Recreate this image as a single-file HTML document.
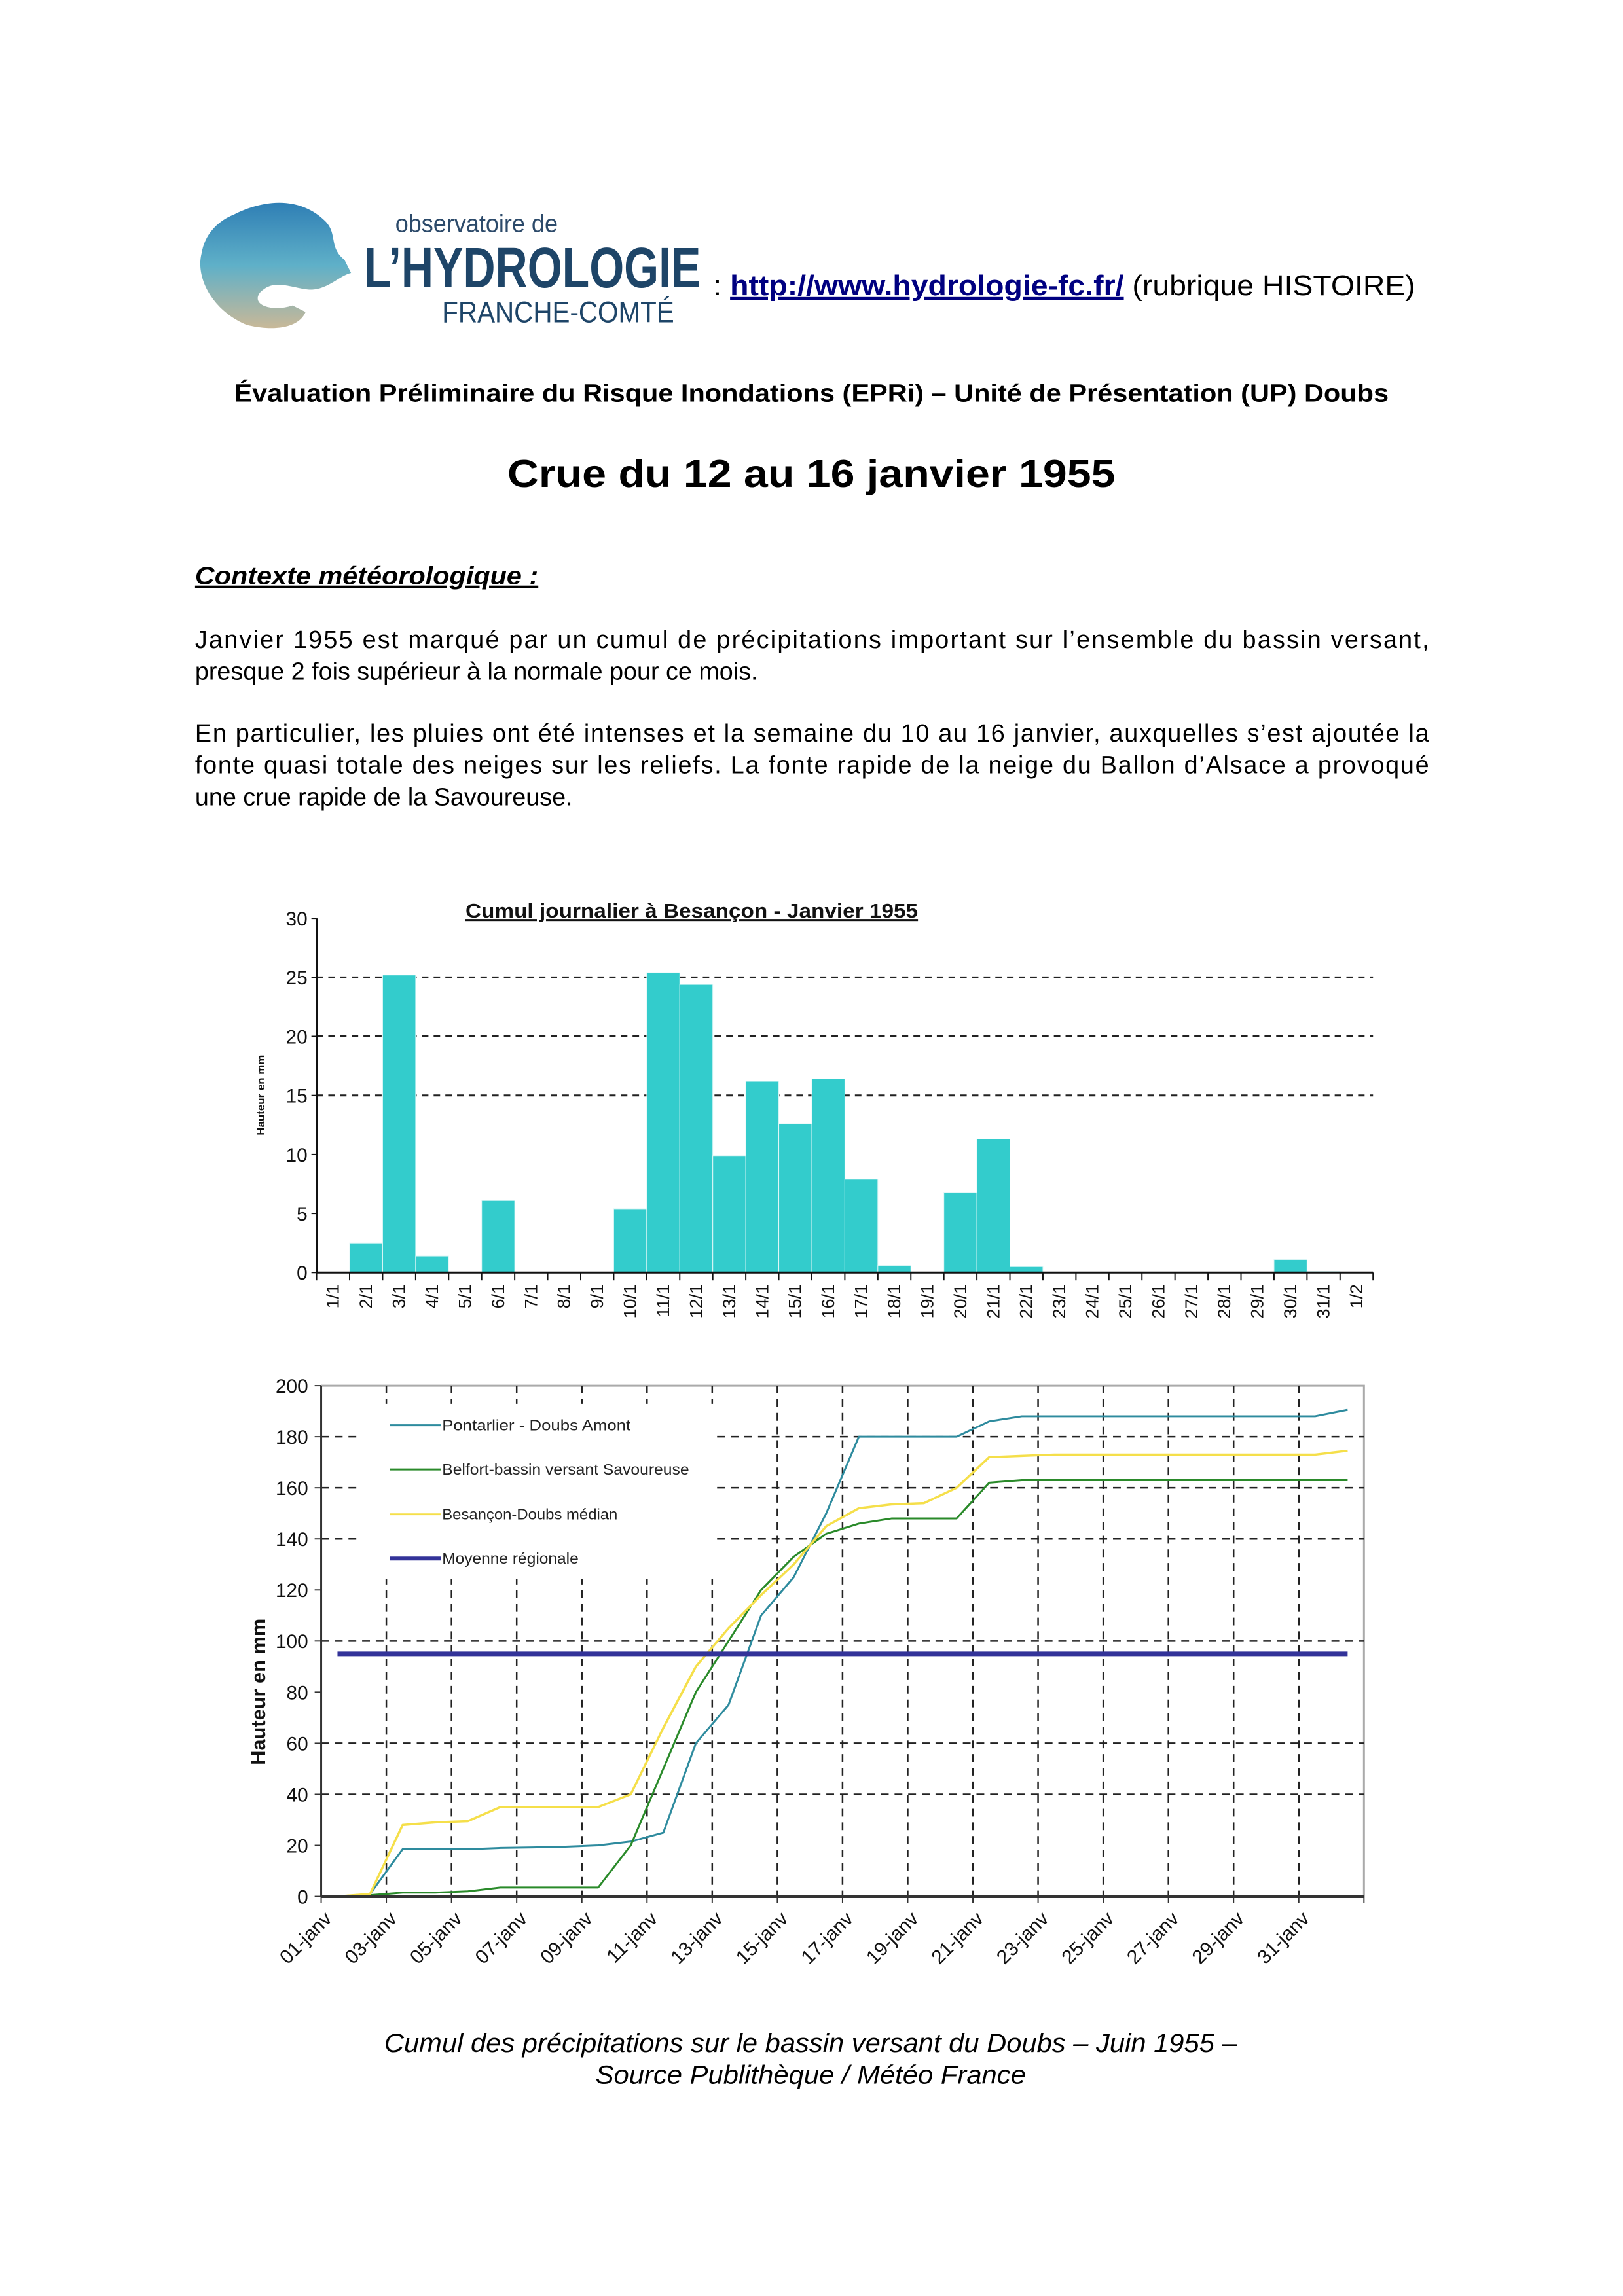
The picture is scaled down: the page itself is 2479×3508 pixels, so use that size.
<!DOCTYPE html>
<html><head><meta charset="utf-8">
<style>
html,body{margin:0;padding:0;background:#fff;}
svg{display:block;}
</style></head>
<body>
<svg id="page" xmlns="http://www.w3.org/2000/svg" width="2479" height="3508" viewBox="0 0 2479 3508" font-family="'Liberation Sans', Arial, sans-serif">
<defs>
<linearGradient id="lg" x1="0" y1="0" x2="0" y2="1">
<stop offset="0" stop-color="#2f7fb5"/><stop offset="0.5" stop-color="#5fb0c8"/><stop offset="1" stop-color="#c8b898"/>
</linearGradient>
</defs>
<g transform="scale(0.993)">
<g>
<path d="M360 330 C420 300 470 310 500 340 C520 360 505 380 530 400 L540 420 C520 425 500 450 470 445 C440 440 420 430 400 450 C385 470 420 480 450 470 L470 480 C460 505 420 510 380 500 C330 480 300 430 310 390 C315 360 335 340 360 330 Z" fill="url(#lg)"/>
<text x="608" y="357" font-size="38" fill="#2c4a6a" textLength="250" lengthAdjust="spacingAndGlyphs">observatoire de</text>
<text x="560" y="442" font-size="88" font-weight="bold" fill="#1e4568" textLength="518" lengthAdjust="spacingAndGlyphs">L’HYDROLOGIE</text>
<text x="680" y="496" font-size="46" fill="#1e4568" textLength="357" lengthAdjust="spacingAndGlyphs">FRANCHE-COMTÉ</text>
</g>
<text x="1097" y="454" font-size="44" fill="#000" textLength="1080" lengthAdjust="spacingAndGlyphs">: <tspan fill="#000080" font-weight="bold" text-decoration="underline">http://www.hydrologie-fc.fr/</tspan> (rubrique HISTOIRE)</text>
<text x="1248" y="618" font-size="38" font-weight="bold" text-anchor="middle" textLength="1776" lengthAdjust="spacingAndGlyphs">Évaluation Préliminaire du Risque Inondations (EPRi) – Unité de Présentation (UP) Doubs</text>
<text x="1248" y="749" font-size="60" font-weight="bold" text-anchor="middle" textLength="935" lengthAdjust="spacingAndGlyphs">Crue du 12 au 16 janvier 1955</text>
<text x="300" y="899" font-size="38" font-weight="bold" font-style="italic" text-decoration="underline" textLength="528" lengthAdjust="spacingAndGlyphs">Contexte météorologique :</text>
<g font-size="38">
<text x="300" y="997" textLength="1898" lengthAdjust="spacing">Janvier 1955 est marqué par un cumul de précipitations important sur l’ensemble du bassin versant,</text>
<text x="300" y="1046">presque 2 fois supérieur à la normale pour ce mois.</text>
<text x="300" y="1141" textLength="1898" lengthAdjust="spacing">En particulier, les pluies ont été intenses et la semaine du 10 au 16 janvier, auxquelles s’est ajoutée la</text>
<text x="300" y="1190" textLength="1898" lengthAdjust="spacing">fonte quasi totale des neiges sur les reliefs. La fonte rapide de la neige du Ballon d’Alsace a provoqué</text>
<text x="300" y="1239">une crue rapide de la Savoureuse.</text>
</g>
<g id="bar-chart"></g>
<g id="line-chart"></g>
<text x="1247" y="3157" font-size="40" font-style="italic" text-anchor="middle" textLength="1312" lengthAdjust="spacingAndGlyphs">Cumul des précipitations sur le bassin versant du Doubs – Juin 1955 –</text>
<text x="1247" y="3206" font-size="40" font-style="italic" text-anchor="middle" textLength="662" lengthAdjust="spacingAndGlyphs">Source Publithèque / Météo France</text>
</g>
</svg>
<script>
// ---- bar chart data ----
const barCategories = ["1/1","2/1","3/1","4/1","5/1","6/1","7/1","8/1","9/1","10/1","11/1","12/1","13/1","14/1","15/1","16/1","17/1","18/1","19/1","20/1","21/1","22/1","23/1","24/1","25/1","26/1","27/1","28/1","29/1","30/1","31/1","1/2"];
const barValues = [0,2.5,25.2,1.4,0,6.1,0,0,0,5.4,25.4,24.4,9.9,16.2,12.6,16.4,7.9,0.6,0,6.8,11.3,0.5,0,0,0,0,0,0,0,1.1,0.1,0];
const barTicks = [0,5,10,15,20,25,30];
const barGrid = [15,20,25];
// ---- line chart data ----
const lineCategories = ["01-janv","02-janv","03-janv","04-janv","05-janv","06-janv","07-janv","08-janv","09-janv","10-janv","11-janv","12-janv","13-janv","14-janv","15-janv","16-janv","17-janv","18-janv","19-janv","20-janv","21-janv","22-janv","23-janv","24-janv","25-janv","26-janv","27-janv","28-janv","29-janv","30-janv","31-janv","01-févr"];
const pontarlier = [0,1,18.5,18.5,18.5,19,19.2,19.5,20,21.5,25,60,75,110,125,150,180,180,180,180,186,188,188,188,188,188,188,188,188,188,188,190.5];
const belfort = [0,0.5,1.5,1.5,2,3.5,3.5,3.5,3.5,20,50,80,100,120,133,142,146,148,148,148,162,163,163,163,163,163,163,163,163,163,163,163];
const besancon = [0,1,28,29,29.5,35,35,35,35,40,66,90,105,118,130,145,152,153.5,154,160,172,172.5,173,173,173,173,173,173,173,173,173,174.5];
const moyenne = [95,95,95,95,95,95,95,95,95,95,95,95,95,95,95,95,95,95,95,95,95,95,95,95,95,95,95,95,95,95,95,95];
const seriesNames = ["Pontarlier - Doubs Amont","Belfort-bassin versant Savoureuse","Besançon-Doubs médian","Moyenne régionale"];
const lineTicks = [0,20,40,60,80,100,120,140,160,180,200];
const lineGrid = [40,60,100,140,160,180];

const NS="http://www.w3.org/2000/svg";
function mk(parent,tag,attrs,text){const e=document.createElementNS(NS,tag);for(const k in attrs)e.setAttribute(k,attrs[k]);if(text!==undefined)e.textContent=text;parent.appendChild(e);return e;}

// ---------- BAR CHART ----------
(function(){
const g=document.getElementById('bar-chart');
const x0=487,x1=2112,y0=1958,y1=1413,ymax=30;
const bw=(x1-x0)/barCategories.length;
const ys=v=>y0-(v/ymax)*(y0-y1);
const xs=i=>x0+bw*i;
let t=mk(g,'text',{x:1064,y:1412,'font-size':31,'font-weight':'bold','text-anchor':'middle','text-decoration':'underline',textLength:696,lengthAdjust:'spacingAndGlyphs',fill:'#111'},'Cumul journalier à Besançon - Janvier 1955');


barGrid.forEach(v=>{const l=mk(g,'line',{x1:x0,x2:x1,y1:ys(v),y2:ys(v),stroke:'#222','stroke-width':3,'stroke-dasharray':'10 8'});

});
barValues.forEach((v,i)=>{if(v<=0)return;const r=mk(g,'rect',{x:xs(i),y:ys(v),width:bw,height:y0-ys(v),fill:'#33cccc',stroke:'#e0f7f7','stroke-width':1});

});
let a=mk(g,'line',{x1:x0,x2:x0,y1:y1,y2:y0,stroke:'#111','stroke-width':3});


a=mk(g,'line',{x1:x0,x2:x1,y1:y0,y2:y0,stroke:'#111','stroke-width':3});


barTicks.forEach(v=>{mk(g,'line',{x1:x0-8,x2:x0,y1:ys(v),y2:ys(v),stroke:'#111','stroke-width':2});
const tl=mk(g,'text',{x:x0-14,y:ys(v)+11,'font-size':30,'text-anchor':'end',fill:'#111'},String(v));

});
for(let i=0;i<=barCategories.length;i++){mk(g,'line',{x1:xs(i),x2:xs(i),y1:y0,y2:y0+12,stroke:'#111','stroke-width':2});}
barCategories.forEach((c,i)=>{const cx=xs(i)+bw/2;
const tl=mk(g,'text',{x:0,y:0,'font-size':27,'text-anchor':'end',fill:'#111',transform:`translate(${cx+9},${y0+18}) rotate(-90)`},c);

});
t=mk(g,'text',{x:0,y:0,'font-size':17,'font-weight':'bold','text-anchor':'middle',fill:'#111',transform:`translate(407,1685) rotate(-90)`},'Hauteur en mm');


})();

// ---------- LINE CHART ----------
(function(){
const g=document.getElementById('line-chart');
const x0=494,x1=2098,y0=2918,y1=2132,ymax=200;
const n=lineCategories.length;
const cw=(x1-x0)/n;
const ys=v=>y0-(v/ymax)*(y0-y1);
const xs=i=>x0+cw*(i+0.5);
let f=mk(g,'path',{d:`M${x0} ${y1} H${x1} V${y0}`,fill:'none',stroke:'#aaa','stroke-width':3});


lineGrid.forEach(v=>{const l=mk(g,'line',{x1:x0,x2:x1,y1:ys(v),y2:ys(v),stroke:'#222','stroke-width':2.5,'stroke-dasharray':'12 9'});

});
for(let i=2;i<n;i+=2){const x=x0+cw*i;const l=mk(g,'line',{x1:x,x2:x,y1:y1,y2:y0,stroke:'#222','stroke-width':2.5,'stroke-dasharray':'12 9'});

}
const lb=mk(g,'rect',{x:556,y:2160,width:544,height:270,fill:'#fff'});


const series=[[pontarlier,'#2e8b9e',3],[belfort,'#2a8a2a',3],[besancon,'#f5df4a',3.5],[moyenne,'#333399',7]];
series.forEach((s,si)=>{const [vals,col,w]=s;
const pts=vals.map((v,i)=>`${xs(i).toFixed(1)},${ys(v).toFixed(1)}`).join(' ');
const p=mk(g,'polyline',{points:pts,fill:'none',stroke:col,'stroke-width':w,'stroke-linejoin':'round'});

});
const axisLine=mk(g,'line',{x1:x0,x2:x1,y1:y0,y2:y0,stroke:'#333','stroke-width':5});


const ya=mk(g,'line',{x1:x0,x2:x0,y1:y1,y2:y0,stroke:'#333','stroke-width':3});


const legY=[2193,2261,2330,2398];
const legCol=['#2e8b9e','#2a8a2a','#f5df4a','#333399'];
seriesNames.forEach((nm,i)=>{const le=mk(g,'g',{});


mk(le,'line',{x1:600,x2:678,y1:legY[i],y2:legY[i],stroke:legCol[i],'stroke-width':i==3?6:3});
mk(le,'text',{x:680,y:legY[i]+8,'font-size':23,fill:'#222',textLength:[290,380,270,210][i],lengthAdjust:'spacingAndGlyphs'},nm);});
lineTicks.forEach(v=>{mk(g,'line',{x1:x0-10,x2:x0,y1:ys(v),y2:ys(v),stroke:'#333','stroke-width':2});
const tl=mk(g,'text',{x:x0-20,y:ys(v)+11,'font-size':30,'text-anchor':'end',fill:'#111'},String(v));

});
for(let i=0;i<=n;i+=2){mk(g,'line',{x1:x0+cw*i,x2:x0+cw*i,y1:y0,y2:y0+10,stroke:'#333','stroke-width':2});}
lineCategories.forEach((c,i)=>{if(i%2)return;const x=x0+cw*i;
const tl=mk(g,'text',{x:0,y:0,'font-size':30,'text-anchor':'end',fill:'#111',transform:`translate(${x+18},${y0+36}) rotate(-45)`},c);

});
const yt=mk(g,'text',{x:0,y:0,'font-size':31,'font-weight':'bold','text-anchor':'middle',fill:'#111',transform:`translate(408,2603) rotate(-90)`},'Hauteur en mm');


})();
</script>
</body></html>
